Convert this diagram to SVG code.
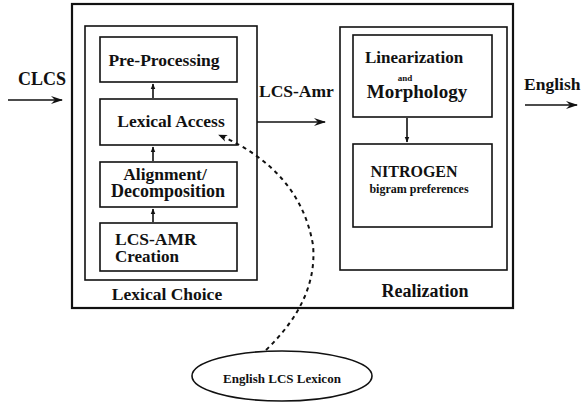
<svg xmlns="http://www.w3.org/2000/svg" width="581" height="402" viewBox="0 0 581 402">
<defs>
<style>
.box{fill:none;stroke:#111;stroke-width:1.6}
.outer{fill:none;stroke:#111;stroke-width:2.2}
.t{font-family:"Liberation Serif","Times New Roman",serif;font-weight:bold;fill:#111;font-size:17.5px}
.c{stroke:#111;stroke-width:1.6;fill:none}
.dash{stroke:#111;stroke-width:2;fill:none;stroke-dasharray:4 4}
</style>
<marker id="ah" viewBox="0 0 10 10" refX="9" refY="5" markerWidth="9" markerHeight="9" markerUnits="userSpaceOnUse" orient="auto">
<path d="M0,1 L10,5 L0,9 L3,5 Z" fill="#111"/>
</marker>
<marker id="big" viewBox="0 0 12 10" refX="11" refY="5" markerWidth="14" markerHeight="10" markerUnits="userSpaceOnUse" orient="auto">
<path d="M0,1 L12,5 L0,9 L4,5 Z" fill="#111"/>
</marker>
<marker id="sm" viewBox="0 0 10 10" refX="9" refY="5" markerWidth="6" markerHeight="6" markerUnits="userSpaceOnUse" orient="auto">
<path d="M0,1 L10,5 L0,9 Z" fill="#111"/>
</marker>
</defs>

<g id="outer">
<rect class="outer" x="72" y="4" width="441" height="304"/>
</g>

<g id="lexical-choice">
<rect class="box" x="85" y="26" width="172" height="254"/>
<text class="t" x="167" y="300" text-anchor="middle">Lexical Choice</text>
</g>

<g id="pre-processing">
<rect class="box" x="100" y="37" width="137" height="45"/>
<text class="t" x="164" y="66" text-anchor="middle">Pre-Processing</text>
</g>

<g id="lexical-access">
<rect class="box" x="100" y="99" width="137" height="46"/>
<text class="t" x="171" y="127" text-anchor="middle">Lexical Access</text>
</g>

<g id="alignment">
<rect class="box" x="100" y="162" width="137" height="45"/>
<text class="t" x="165" y="180" text-anchor="middle">Alignment/</text>
<text class="t" x="168" y="197" text-anchor="middle" style="font-size:18px">Decomposition</text>
</g>

<g id="lcs-amr-creation">
<rect class="box" x="100" y="223" width="137" height="48"/>
<text class="t" x="115" y="245">LCS-AMR</text>
<text class="t" x="115" y="262" style="font-size:17px">Creation</text>
</g>

<g id="realization">
<rect class="box" x="340" y="27" width="167" height="243"/>
<text class="t" x="425" y="297" text-anchor="middle" style="font-size:18px">Realization</text>
</g>

<g id="linearization">
<rect class="box" x="353" y="35" width="139" height="82"/>
<text class="t" x="414" y="63" text-anchor="middle" style="font-size:17px">Linearization</text>
<text class="t" x="405" y="81" text-anchor="middle" style="font-size:9px">and</text>
<text class="t" x="417" y="98" text-anchor="middle" style="font-size:19px">Morphology</text>
</g>

<g id="nitrogen">
<rect class="box" x="353" y="144" width="139" height="83"/>
<text class="t" x="414" y="177" text-anchor="middle" style="font-size:16px">NITROGEN</text>
<text class="t" x="419" y="193" text-anchor="middle" style="font-size:12px">bigram preferences</text>
</g>

<g id="lexicon">
<ellipse class="box" cx="282" cy="376" rx="90" ry="25"/>
<text class="t" x="282" y="383" text-anchor="middle" style="font-size:13px">English LCS Lexicon</text>
</g>

<g id="labels">
<text class="t" x="18" y="85" style="font-size:18px">CLCS</text>
<text class="t" x="259" y="97">LCS-Amr</text>
<text class="t" x="524" y="90">English</text>
</g>

<g id="connectors">
<line class="c" x1="8" y1="100" x2="62" y2="100" marker-end="url(#big)"/>
<line class="c" x1="257" y1="122" x2="325" y2="122" marker-end="url(#big)"/>
<line class="c" x1="525" y1="105" x2="577" y2="105" marker-end="url(#big)"/>
<line class="c" x1="153" y1="98" x2="153" y2="84" stroke-width="1.2" marker-end="url(#sm)"/>
<line class="c" x1="153" y1="161" x2="153" y2="147" stroke-width="1.2" marker-end="url(#sm)"/>
<line class="c" x1="153" y1="222" x2="153" y2="209" stroke-width="1.2" marker-end="url(#sm)"/>
<line class="c" x1="407" y1="118" x2="407" y2="142" stroke-width="1.4" marker-end="url(#sm)"/>
<path class="dash" d="M266,350 Q318,300 313,245 Q300,170 219,135" marker-end="url(#ah)"/>
</g>
</svg>
